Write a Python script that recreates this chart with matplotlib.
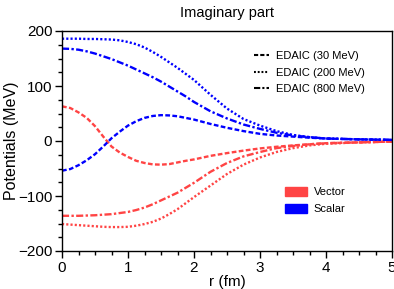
import matplotlib
matplotlib.use("Agg")
import matplotlib.pyplot as plt
from matplotlib.patches import Patch
from matplotlib.lines import Line2D
from matplotlib.ticker import MultipleLocator

plt.rcParams['font.family'] = ['Liberation Sans', 'DejaVu Sans']

r = [0, 0.125, 0.25, 0.375, 0.5, 0.625, 0.75, 0.875, 1.0, 1.125, 1.25, 1.375, 1.5,
     1.625, 1.75, 1.875, 2.0, 2.25, 2.5, 2.75, 3.0, 3.25, 3.5, 3.75, 4.0, 4.5, 5.0]

scalar_30 = [-54, -51, -44, -35, -24, -10, 5, 17, 28, 36, 42, 45.5, 47,
             46.5, 45, 42, 39, 31, 24, 18, 13, 10, 8, 6, 4.5, 3, 2]
scalar_200 = [186, 186, 186, 185.5, 185.5, 185, 184.5, 183, 180, 176, 170, 162, 153,
              143, 133, 122, 111, 84, 59, 40, 28, 18, 11, 7, 4.5, 3, 2]
scalar_800 = [168, 167.5, 166, 163, 159, 154, 149, 143, 137, 130, 123, 116, 108,
              99, 90, 81, 71, 54, 41, 30, 22, 15, 10, 7, 4.5, 3, 2]

vector_30 = [63, 60, 52, 42, 27, 8, -10, -21, -29, -36, -40, -42.5, -43,
             -42, -39, -36, -33.5, -27, -22, -17.5, -13.5, -10.5, -8, -6, -4, -2.5, -1]
vector_200 = [-151, -152, -153, -154, -155, -156, -156.5, -156.5, -156, -154, -151, -147, -141,
              -133, -124, -113, -102, -81, -60, -43, -30, -20, -13, -8, -5, -2.5, -1]
vector_800 = [-136, -136, -136, -135.5, -135, -134, -133, -131, -129, -125.5, -121, -115, -108,
              -101, -94, -85, -76, -56, -40, -28, -20, -13, -9, -6, -4, -2.5, -1]

energies = ['EDAIC (30 MeV)', 'EDAIC (200 MeV)', 'EDAIC (800 MeV)']

red = '#ff4444'
blue = '#0000ff'
styles = [(0, (2.0, 1.0)), (0, (0.9, 0.9)), (0, (3, 1, 1, 1))]

fig = plt.figure(figsize=(3.94, 2.89), dpi=100)
ax = fig.add_axes([62/394, 1-251/289, 330/394, 220/289])

lw = 1.7
for vals, ls in zip([vector_30, vector_200, vector_800], styles):
    ax.plot(r, vals, color=red, ls=ls, lw=lw)
for vals, ls in zip([scalar_30, scalar_200, scalar_800], styles):
    ax.plot(r, vals, color=blue, ls=ls, lw=lw)

ax.set_xlim(0, 5)
ax.set_ylim(-200, 200)
ax.xaxis.set_major_locator(MultipleLocator(1))
ax.xaxis.set_minor_locator(MultipleLocator(0.25))
ax.yaxis.set_major_locator(MultipleLocator(100))
ax.yaxis.set_minor_locator(MultipleLocator(25))
ax.tick_params(which='major', length=5, width=1, labelsize=11, pad=2)
ax.tick_params(which='minor', length=3, width=1)
for s in ax.spines.values():
    s.set_linewidth(1)

ax.set_xlabel('r (fm)', fontsize=11, labelpad=0)
ax.set_ylabel('Potentials (MeV)', fontsize=11.5, labelpad=-1)
ax.set_title('Imaginary part', fontsize=10.5, pad=10)

h1 = [Line2D([0], [0], color='black', ls=ls, lw=1.5) for ls in styles]
leg1 = ax.legend(h1, energies, loc='upper left', bbox_to_anchor=(0.55, 0.955),
                 frameon=False, fontsize=8, handlelength=1.4, handletextpad=0.6,
                 labelspacing=0.6)
ax.add_artist(leg1)

h2 = [Patch(color=red), Patch(color=blue)]
ax.legend(h2, ['Vector', 'Scalar'], loc='upper left', bbox_to_anchor=(0.645, 0.335),
          frameon=False, fontsize=8, handlelength=2.0, handleheight=0.8,
          handletextpad=0.6, labelspacing=0.6)

fig.savefig('out.png', dpi=100)
